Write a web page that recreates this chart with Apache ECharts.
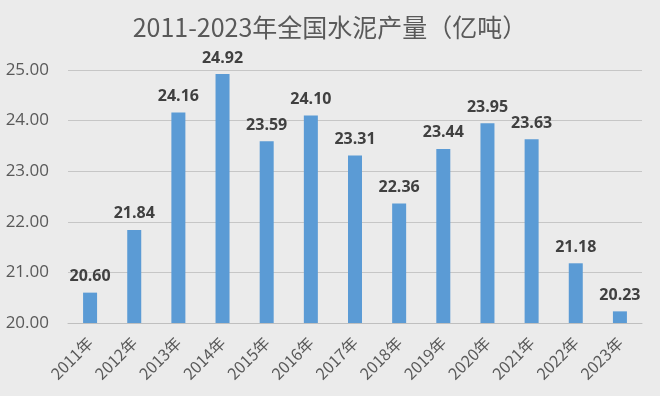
<!DOCTYPE html>
<html><head><meta charset="utf-8">
<script src="https://cdn.jsdelivr.net/npm/echarts@6/dist/echarts.min.js"></script>
<style>html,body{margin:0;padding:0;background:#ebebeb;}#c{width:660px;height:396px;}</style>
</head><body><div id="c"></div>
<script>
const categories = ['2011年','2012年','2013年','2014年','2015年','2016年','2017年','2018年','2019年','2020年','2021年','2022年','2023年'];
const values = [20.60,21.84,24.16,24.92,23.59,24.10,23.31,22.36,23.44,23.95,23.63,21.18,20.23];
const yTicks = [20,21,22,23,24,25];
const chart = echarts.init(document.getElementById('c'));
chart.setOption({
  backgroundColor:'#ebebeb',
  animation:false,
  title:{text:'2011-2023年全国水泥产量（亿吨）',left:'center',top:10,
    textStyle:{fontFamily:'Noto Sans CJK SC',fontSize:25,fontWeight:'normal',color:'#595959'}},
  grid:{left:68,right:18,top:70,bottom:73},
  xAxis:{type:'category',data:categories,
    axisLine:{lineStyle:{color:'#bfbfbf'}},axisTick:{show:false},
    axisLabel:{rotate:45,color:'#595959',fontSize:16,fontFamily:'Noto Sans CJK SC',margin:17}},
  yAxis:{type:'value',min:yTicks[0],max:yTicks[yTicks.length-1],interval:1,
    axisLine:{show:false},axisTick:{show:false},
    splitLine:{lineStyle:{color:'#c6c6c6',width:1}},
    axisLabel:{color:'#595959',fontSize:17,fontFamily:'Open Sans',margin:19,formatter:v=>v.toFixed(2)}},
  series:[{type:'bar',data:values,barWidth:14,
    itemStyle:{color:'#5b9bd5'},
    label:{show:true,position:'top',distance:8,color:'#404040',fontSize:16,fontWeight:'bold',fontFamily:'Open Sans',
      formatter:p=>p.value.toFixed(2)}}]
});
</script></body></html>
